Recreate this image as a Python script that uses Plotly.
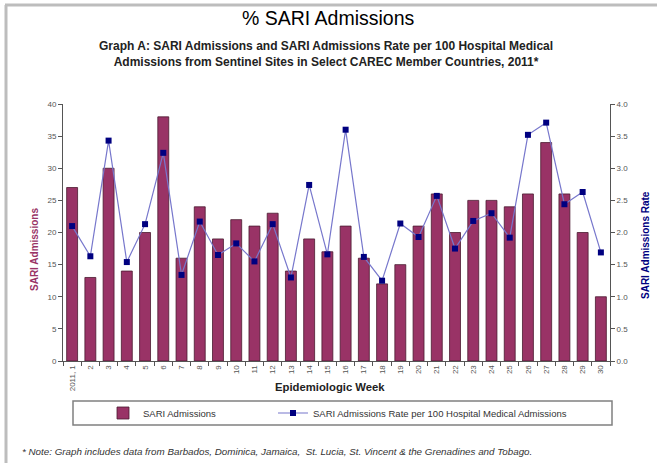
import plotly.graph_objects as go

weeks = ["2011, 1"] + [str(i) for i in range(2, 31)]
sari_admissions = [27, 13, 30, 14, 20, 38, 16, 24, 19, 22, 21, 23, 14, 19, 17,
                   21, 16, 12, 15, 21, 26, 20, 25, 25, 24, 26, 34, 26, 20, 10]
sari_rate = [2.10, 1.63, 3.43, 1.54, 2.13, 3.24, 1.34, 2.17, 1.65, 1.83, 1.55, 2.13, 1.30, 2.74, 1.66,
             3.60, 1.62, 1.25, 2.14, 1.93, 2.57, 1.75, 2.18, 2.30, 1.92, 3.52, 3.71, 2.44, 2.63, 1.69]
left_ticks = [0, 5, 10, 15, 20, 25, 30, 35, 40]
right_ticks = [0.0, 0.5, 1.0, 1.5, 2.0, 2.5, 3.0, 3.5, 4.0]

FONT = "Arial, Liberation Sans, sans-serif"
W, H = 657, 463
L, R, T, B = 63, 610, 104, 361

def px(x):
    return (x - L) / (R - L)

def py(y):
    return (B - y) / (B - T)

fig = go.Figure()
fig.add_trace(go.Bar(
    x=weeks, y=sari_admissions, name="SARI Admissions",
    marker=dict(color="#993366", line=dict(color="#4a1a30", width=0.8)),
    yaxis="y", legend="legend",
))
fig.add_trace(go.Scatter(
    x=weeks, y=sari_rate, name="SARI Admissions Rate per 100 Hospital Medical Admissions",
    mode="lines+markers",
    line=dict(color="#7777cc", width=1.2),
    marker=dict(symbol="square", size=6, color="#000080"),
    yaxis="y2", legend="legend2",
))

tickfont = dict(family=FONT, size=8, color="#555555")
legfont = dict(family=FONT, size=9.5, color="#333333")

fig.update_layout(
    width=W, height=H,
    margin=dict(l=L, r=W - R, t=T, b=H - B, autoexpand=False),
    paper_bgcolor="white", plot_bgcolor="white",
    font=dict(family=FONT),
    bargap=0.4,
    showlegend=True,
    legend=dict(
        orientation="h", x=px(103), xanchor="left", y=py(413), yanchor="middle",
        font=legfont, bgcolor="rgba(0,0,0,0)", borderwidth=0, itemwidth=30,
    ),
    legend2=dict(
        orientation="h", x=px(273), xanchor="left", y=py(413), yanchor="middle",
        font=legfont, bgcolor="rgba(0,0,0,0)", borderwidth=0, itemwidth=30,
    ),
    xaxis=dict(
        type="category", range=[-0.5, len(weeks) - 0.5], tickangle=-90, tickfont=tickfont,
        showline=True, linecolor="#555555", linewidth=1,
        ticks="outside", ticklen=4, tickcolor="#555555", tickson="boundaries",
        showgrid=False, automargin=False,
    ),
    yaxis=dict(
        range=[0, 40], tickvals=left_ticks, tickfont=tickfont,
        showline=True, linecolor="#555555", linewidth=1,
        ticks="outside", ticklen=4, tickcolor="#555555",
        showgrid=False, zeroline=False, automargin=False,
    ),
    yaxis2=dict(
        range=[0, 4], tickvals=right_ticks, tickformat=".1f", tickfont=tickfont,
        overlaying="y", side="right",
        showline=True, linecolor="#555555", linewidth=1,
        ticks="outside", ticklen=4, tickcolor="#555555",
        showgrid=False, zeroline=False, automargin=False,
    ),
)

annotations = [
    dict(text="% SARI Admissions", x=px(328), y=py(18), xref="paper", yref="paper",
         xanchor="center", yanchor="middle", showarrow=False,
         font=dict(family=FONT, size=19.5, color="#000000")),
    dict(text="<b>Graph A: SARI Admissions and SARI Admissions Rate per 100 Hospital Medical<br>"
              "Admissions from Sentinel Sites in Select CAREC Member Countries, 2011*</b>",
         x=px(326), y=py(54), xref="paper", yref="paper",
         xanchor="center", yanchor="middle", showarrow=False,
         font=dict(family=FONT, size=12, color="#222222")),
    dict(text="<b>SARI Admissions</b>", x=px(34), y=py(250), xref="paper", yref="paper",
         xanchor="center", yanchor="middle", textangle=-90, showarrow=False,
         font=dict(family=FONT, size=10, color="#993366")),
    dict(text="<b>SARI Admissions Rate</b>", x=px(645), y=py(245), xref="paper", yref="paper",
         xanchor="center", yanchor="middle", textangle=-90, showarrow=False,
         font=dict(family=FONT, size=10, color="#000080")),
    dict(text="<b>Epidemiologic Week</b>", x=px(330), y=py(387), xref="paper", yref="paper",
         xanchor="center", yanchor="middle", showarrow=False,
         font=dict(family=FONT, size=11.3, color="#222222")),
    dict(text="<i>* Note: Graph includes data from Barbados, Dominica, Jamaica,  St. Lucia, St. Vincent &amp; the Grenadines and Tobago.</i>",
         x=px(20), y=py(451), xref="paper", yref="paper",
         xanchor="left", yanchor="middle", showarrow=False,
         font=dict(family=FONT, size=9.8, color="#333333")),
]
fig.update_layout(annotations=annotations)

shapes = [
    dict(type="rect", xref="paper", yref="paper",
         x0=px(73), x1=px(612), y0=py(425), y1=py(401),
         line=dict(color="#808080", width=1.5), fillcolor="rgba(0,0,0,0)", layer="below"),
    dict(type="line", xref="paper", yref="paper",
         x0=px(5), x1=px(660), y0=py(5), y1=py(5),
         line=dict(color="#bdbdbd", width=3)),
    dict(type="line", xref="paper", yref="paper",
         x0=px(6), x1=px(6), y0=py(5), y1=py(470),
         line=dict(color="#bdbdbd", width=3)),
]
fig.update_layout(shapes=shapes)

fig.write_html("out.html", config={"displayModeBar": False},
               post_script="document.body.style.margin='0';document.body.style.overflow='hidden';")
